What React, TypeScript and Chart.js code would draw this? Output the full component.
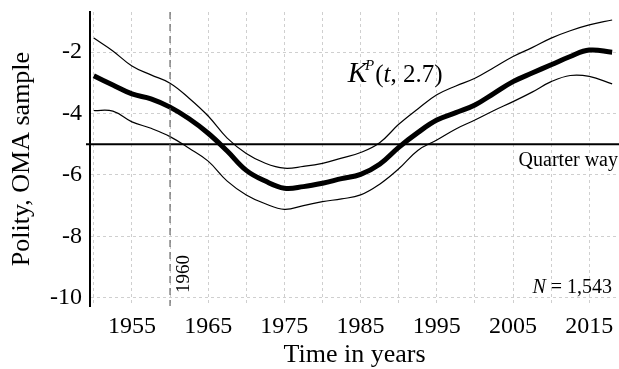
import React, { useEffect, useRef } from "react";
import { Chart, registerables } from "chart.js";

Chart.register(...registerables);

const years = [1950, 1952.5, 1955, 1957.5, 1960, 1962.5, 1965, 1967.5, 1970, 1972.5, 1975, 1977.5, 1980, 1982.5, 1985, 1987.5, 1990, 1992.5, 1995, 1997.5, 2000, 2002.5, 2005, 2007.5, 2010, 2012.5, 2015, 2018];
const estimate = [-2.77, -3.07, -3.36, -3.52, -3.79, -4.17, -4.64, -5.22, -5.85, -6.2, -6.43, -6.38, -6.27, -6.12, -5.98, -5.65, -5.1, -4.62, -4.21, -3.97, -3.72, -3.34, -2.96, -2.68, -2.41, -2.14, -1.93, -2.0];
const upper = [-1.54, -1.96, -2.45, -2.74, -3.01, -3.5, -4.08, -4.8, -5.3, -5.62, -5.78, -5.72, -5.62, -5.45, -5.27, -4.95, -4.35, -3.85, -3.39, -3.1, -2.85, -2.5, -2.14, -1.85, -1.54, -1.3, -1.11, -0.95];
const lower = [-3.9, -3.92, -4.27, -4.48, -4.75, -5.13, -5.55, -6.2, -6.65, -6.94, -7.12, -7.0, -6.87, -6.78, -6.65, -6.3, -5.8, -5.2, -4.86, -4.5, -4.21, -3.9, -3.61, -3.3, -2.96, -2.76, -2.79, -3.03];

const xTicks = [1950, 1955, 1960, 1965, 1970, 1975, 1980, 1985, 1990, 1995, 2000, 2005, 2010, 2015];
const xLabeled = [1955, 1965, 1975, 1985, 1995, 2005, 2015];
const yTicks = [-10, -8, -6, -4, -2];

const quarterWay = -5;
const markYear = 1960;
const markLabel = "1960";
const nLabel = "N = 1,543";
const quarterLabel = "Quarter way";
const xTitle = "Time in years";
const yTitle = "Polity, OMA sample";

const SERIF = '"Liberation Serif", "Times New Roman", serif';

const pts = (vals: number[]) => years.map((x, i) => ({ x, y: vals[i] }));

const annotations = {
  id: "annotations",
  afterDatasetsDraw(chart: any) {
    const { ctx, chartArea, scales } = chart;
    const xs = scales.x;
    const ys = scales.y;
    ctx.save();
    // quarter way line
    const yq = ys.getPixelForValue(quarterWay);
    ctx.strokeStyle = "#000";
    ctx.lineWidth = 2;
    ctx.beginPath();
    ctx.moveTo(chartArea.left - 4, yq);
    ctx.lineTo(chartArea.right, yq);
    ctx.stroke();
    // 1960 dashed line
    const xm = xs.getPixelForValue(markYear);
    ctx.strokeStyle = "#666";
    ctx.lineWidth = 1.2;
    ctx.setLineDash([7, 5]);
    ctx.beginPath();
    ctx.moveTo(xm, chartArea.top);
    ctx.lineTo(xm, chartArea.bottom);
    ctx.stroke();
    ctx.setLineDash([]);

    ctx.fillStyle = "#000";
    // 1960 rotated label
    ctx.save();
    ctx.translate(xm + 14, chartArea.bottom - 32);
    ctx.rotate(-Math.PI / 2);
    ctx.font = `19px ${SERIF}`;
    ctx.textAlign = "center";
    ctx.textBaseline = "middle";
    ctx.fillText(markLabel, 0, 0);
    ctx.restore();

    // Quarter way
    ctx.font = `20px ${SERIF}`;
    ctx.textAlign = "right";
    ctx.textBaseline = "alphabetic";
    ctx.fillText(quarterLabel, chartArea.right - 1, yq + 22);

    // N = 1,543
    const nRest = nLabel.slice(1);
    ctx.font = `20px ${SERIF}`;
    const wRest = ctx.measureText(nRest).width;
    const nx = chartArea.right - 7;
    const ny = ys.getPixelForValue(-9.85);
    ctx.textAlign = "left";
    ctx.fillText(nRest, nx - wRest, ny);
    ctx.font = `italic 20px ${SERIF}`;
    const wN = ctx.measureText("N").width;
    ctx.fillText("N", nx - wRest - wN, ny);

    // K^P(t, 2.7)
    let kx = xs.getPixelForValue(1983.3);
    const ky = ys.getPixelForValue(-2.98);
    ctx.font = `italic 29px ${SERIF}`;
    ctx.fillText("K", kx, ky);
    kx += ctx.measureText("K").width - 2;
    ctx.font = `italic 15px ${SERIF}`;
    ctx.fillText("P", kx, ky - 12.5);
    kx += ctx.measureText("P").width + 1;
    ctx.font = `25px ${SERIF}`;
    ctx.fillText("(", kx, ky);
    kx += ctx.measureText("(").width;
    ctx.font = `italic 25px ${SERIF}`;
    ctx.fillText("t", kx, ky);
    kx += ctx.measureText("t").width;
    ctx.font = `25px ${SERIF}`;
    ctx.fillText(", 2.7)", kx, ky);
    ctx.restore();
  },
};

export default function App() {
  const ref = useRef<HTMLCanvasElement | null>(null);
  useEffect(() => {
    if (!ref.current) return;
    const zero = (s: any) => {
      s.paddingTop = 0;
      s.paddingBottom = 0;
      s.paddingLeft = 0;
      s.paddingRight = 0;
    };
    const chart = new Chart(ref.current, {
      type: "line",
      data: {
        datasets: [
          { data: pts(upper), borderColor: "#000", borderWidth: 1.2, pointRadius: 0, tension: 0.4 },
          { data: pts(lower), borderColor: "#000", borderWidth: 1.2, pointRadius: 0, tension: 0.4 },
          { data: pts(estimate), borderColor: "#000", borderWidth: 5, pointRadius: 0, tension: 0.4 },
        ],
      },
      options: {
        animation: false,
        responsive: true,
        maintainAspectRatio: false,
        layout: { padding: { top: 12, right: 0, left: 0, bottom: 0 } },
        plugins: { legend: { display: false }, tooltip: { enabled: false } },
        scales: {
          x: {
            type: "linear",
            min: 1949.5,
            max: 2018.9,
            afterBuildTicks: (s: any) => {
              s.ticks = xTicks.map((v) => ({ value: v }));
            },
            afterFit: (s: any) => {
              s.height = 63;
              zero(s);
            },
            grid: { color: "#cfcfcf", lineWidth: 1, drawTicks: false },
            border: { display: false, dash: [3, 3] },
            ticks: {
              autoSkip: false,
              maxRotation: 0,
              padding: 6,
              color: "#000",
              font: { family: SERIF, size: 24 },
              callback: (v: any) => (xLabeled.includes(Number(v)) ? String(v) : ""),
            },
            title: { display: true, text: xTitle, color: "#000", font: { family: SERIF, size: 26 }, padding: { top: 0, bottom: -2 } },
          },
          y: {
            type: "linear",
            min: -10.27,
            max: -0.69,
            afterBuildTicks: (s: any) => {
              s.ticks = yTicks.map((v) => ({ value: v }));
            },
            afterFit: (s: any) => {
              s.width = 90;
              zero(s);
            },
            grid: { color: "#cfcfcf", lineWidth: 1, drawTicks: false },
            border: { display: true, color: "#000", width: 2, dash: [3, 3] },
            ticks: {
              padding: 8,
              color: "#000",
              font: { family: SERIF, size: 24 },
              callback: (v: any) => String(v),
            },
            title: { display: true, text: yTitle, color: "#000", font: { family: SERIF, size: 26 }, padding: { top: 7, bottom: 0 } },
          },
        },
      },
      plugins: [annotations],
    });
    return () => chart.destroy();
  }, []);
  return (
    <div style={{ position: "fixed", left: 0, top: 0, width: 619, height: 369, background: "#fff" }}>
      <canvas ref={ref} />
    </div>
  );
}
